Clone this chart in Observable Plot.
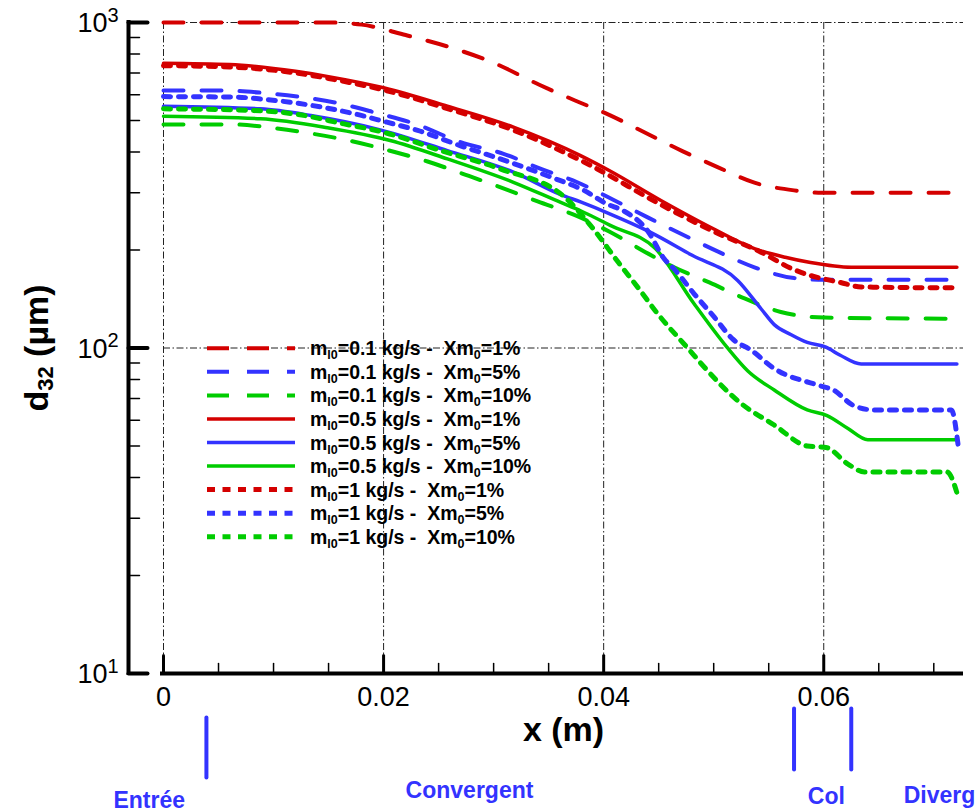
<!DOCTYPE html>
<html><head><meta charset="utf-8">
<script src="https://cdn.jsdelivr.net/npm/d3@7"></script>
<script src="https://cdn.jsdelivr.net/npm/@observablehq/plot@0.6"></script>
<style>
html,body{margin:0;padding:0;background:#fff;overflow:hidden;}
#chart{width:978px;height:812px;overflow:hidden;}
</style></head><body><div id="chart"></div>
<script>
// ---------- data ----------
const xMajor = [0, 0.02, 0.04, 0.06];
const xTickLabels = ["0", "0.02", "0.04", "0.06"];
const xMinor = [0.005, 0.01, 0.015, 0.025, 0.03, 0.035, 0.045, 0.05, 0.055, 0.065, 0.07];
const yMajor = [10, 100, 1000];
const yTickBase = ["10", "10", "10"];
const yTickExp = ["1", "2", "3"];
const yMinor = [20, 30, 40, 50, 60, 70, 80, 90, 200, 300, 400, 500, 600, 700, 800, 900];
const yGrid = [100, 1000];

const massFlow = ["0.1", "0.1", "0.1", "0.5", "0.5", "0.5", "1", "1", "1"];
const xm0 = ["1%", "5%", "10%", "1%", "5%", "10%", "1%", "5%", "10%"];

// m=0.1 kg/s
const x_m01_1 = [0, 0.015, 0.018, 0.022, 0.026, 0.030, 0.0341, 0.0374, 0.0403, 0.0441, 0.0472, 0.0504, 0.0537, 0.0573, 0.0595, 0.0721];
const d_m01_1 = [1000, 1000, 985, 915, 840, 752, 645, 576, 524, 453, 402, 359, 322, 305, 300, 300];
const x_m01_5 = [0, 0.0053, 0.009, 0.0125, 0.016, 0.0194, 0.0229, 0.027, 0.0309, 0.0343, 0.0376, 0.041, 0.044, 0.0473, 0.0505, 0.0537, 0.0573, 0.060, 0.0721];
const d_m01_5 = [618, 618, 608, 590, 564, 527, 488, 429, 395, 355, 323, 284, 252, 222, 197, 177, 164, 162, 162];
const x_m01_10 = [0, 0.0065, 0.01, 0.0136, 0.0171, 0.0202, 0.024, 0.0274, 0.0307, 0.034, 0.0375, 0.0405, 0.0438, 0.0464, 0.0496, 0.0528, 0.0561, 0.060, 0.0721];
const d_m01_10 = [486, 486, 474, 455, 432, 407, 374, 341, 311, 282, 255, 228, 197, 177, 159, 142, 129, 124, 123];
// m=0.5 kg/s
const x_m05_1 = [0, 0.006, 0.012, 0.015, 0.020, 0.0258, 0.0318, 0.0379, 0.0405, 0.0452, 0.0497, 0.0537, 0.0565, 0.0588, 0.0625, 0.0721];
const d_m05_1 = [750, 743, 708, 682, 630, 553, 477, 390, 351, 284, 235, 202, 190, 183, 177, 177];
const x_m05_5 = [0, 0.0088, 0.0134, 0.0197, 0.0258, 0.0318, 0.0361, 0.0379, 0.0406, 0.044, 0.048, 0.0522, 0.0543, 0.0555, 0.057, 0.0585, 0.0602, 0.0615, 0.0634, 0.0721];
const d_m05_5 = [553, 543, 518, 468, 404, 347, 296, 281, 258, 229, 193, 161, 132, 118, 110, 104, 100.6, 95, 89.3, 89.3];
const x_m05_10 = [0, 0.0088, 0.0149, 0.0206, 0.0258, 0.0318, 0.0361, 0.0379, 0.0406, 0.0447, 0.0482, 0.0512, 0.0531, 0.0555, 0.0585, 0.0603, 0.0622, 0.064, 0.0721];
const d_m05_10 = [515, 506, 475, 434, 381, 323, 280, 264, 238, 202, 137, 100.6, 85, 74.3, 64.5, 62, 56.6, 52.3, 52.3];
// m=1 kg/s
const x_m1_1 = [0, 0.006, 0.012, 0.015, 0.0203, 0.0258, 0.0318, 0.0388, 0.045, 0.050, 0.0543, 0.0573, 0.0588, 0.0615, 0.0634, 0.0721];
const d_m1_1 = [737, 730, 700, 673, 617, 544, 467, 364, 278, 228, 197, 174, 167, 159, 154, 153];
const x_m1_5 = [0, 0.0064, 0.0091, 0.012, 0.0147, 0.0176, 0.0203, 0.0231, 0.027, 0.0312, 0.0352, 0.0382, 0.0403, 0.0418, 0.044, 0.0455, 0.0464, 0.0482, 0.050, 0.0518, 0.0534, 0.0555, 0.0594, 0.0609, 0.0627, 0.0646, 0.0716, 0.0722];
const d_m1_5 = [592, 590, 581, 566, 547, 522, 494, 466, 418, 375, 335, 305, 277, 264, 229, 188, 175, 147, 125, 106, 98.5, 86.5, 77, 74.2, 66.6, 64.5, 64.5, 50.6];
const x_m1_10 = [0, 0.0079, 0.0122, 0.0164, 0.020, 0.0252, 0.0306, 0.0365, 0.0388, 0.0414, 0.0432, 0.0449, 0.0478, 0.0488, 0.0525, 0.0555, 0.0585, 0.0602, 0.0622, 0.0637, 0.0712, 0.0722];
const d_m1_10 = [543, 537, 522, 488, 460, 404, 355, 290, 238, 182, 152, 127.5, 98.5, 90, 67.5, 58, 50, 49.5, 44, 41.6, 41.6, 35];

const zoneLabels = ["Entrée", "Convergent", "Col", "Diverg"];
const zoneLabelX = [-0.00455, 0.022, 0.05855, 0.06727];
const inletX = [0.0039];
const throatX = [0.0573, 0.0625];

// ---------- styles ----------
const FONT = '"Liberation Sans", Arial, Helvetica, sans-serif';
const RED = "#d40000", BLUE = "#3333ff", GREEN = "#00cc00";
const DASH = "20,18", DOT = "7,8";
const seriesX = [x_m01_1, x_m01_5, x_m01_10, x_m05_1, x_m05_5, x_m05_10, x_m1_1, x_m1_5, x_m1_10];
const seriesD = [d_m01_1, d_m01_5, d_m01_10, d_m05_1, d_m05_5, d_m05_10, d_m1_1, d_m1_5, d_m1_10];
const colors = [RED, BLUE, GREEN, RED, BLUE, GREEN, RED, BLUE, GREEN];
const dashes = [DASH, DASH, DASH, null, null, null, DOT, DOT, DOT];
const widths = [4, 4, 4, 3.5, 3.5, 3.5, 5, 5, 5];

const rows = seriesX.flatMap((xs, k) => xs.map((x, j) => ({x, d: seriesD[k][j], k})));

const tickShape = {draw(ctx, l) { ctx.moveTo(0, 0); ctx.lineTo(0, -l); }};
const GRID = {stroke: "#222", strokeWidth: 1, strokeDasharray: "7,2.5,1.5,2.5"};

const marks = [
  Plot.ruleX(xMajor, GRID),
  Plot.ruleY(yGrid, GRID),
  ...seriesX.map((_, k) => Plot.line(rows.filter(r => r.k === k), {
    x: "x", y: "d", stroke: colors[k], strokeWidth: widths[k],
    strokeDasharray: dashes[k], curve: "monotone-x"
  })),
  // axes lines
  Plot.ruleY([10], {strokeWidth: 4, insetLeft: -3, insetRight: 0}),
  Plot.ruleX([0], {dx: -35, strokeWidth: 4, insetTop: -2, insetBottom: -2}),
  // y ticks
  Plot.vector(yMajor, {y: d => d, frameAnchor: "left", dx: -35, length: 19, rotate: 90, anchor: "start", shape: tickShape, strokeWidth: 4}),
  Plot.vector(yMinor, {y: d => d, frameAnchor: "left", dx: -35, length: 11, rotate: 90, anchor: "start", shape: tickShape, strokeWidth: 1.5}),
  // x ticks
  Plot.vector(xMajor, {x: d => d, frameAnchor: "bottom", length: 18, rotate: 0, anchor: "start", shape: tickShape, strokeWidth: 3}),
  Plot.vector(xMinor, {x: d => d, frameAnchor: "bottom", length: 10, rotate: 0, anchor: "start", shape: tickShape, strokeWidth: 1.5}),
  // tick labels
  Plot.text(xMajor, {x: d => d, frameAnchor: "bottom", dy: 32, lineAnchor: "bottom", text: xTickLabels, fontSize: 27, fill: "black"}),
  Plot.text(yMajor, {y: d => d, frameAnchor: "left", dx: -56, textAnchor: "end", text: yTickBase, fontSize: 27, dy: 1, fill: "black"}),
  Plot.text(yMajor, {y: d => d, frameAnchor: "left", dx: -56, textAnchor: "start", text: yTickExp, fontSize: 20, dy: -7, fill: "black"}),
  // axis title x
  Plot.text(["x (m)"], {frameAnchor: "bottom", dy: 67, lineAnchor: "bottom", fontSize: 34, fontWeight: "bold", fill: "black"}),
  // zone markers
  Plot.vector(inletX, {x: d => d, frameAnchor: "bottom", dy: 44, length: 60, rotate: 180, anchor: "start", shape: tickShape, stroke: BLUE, strokeWidth: 4}),
  Plot.vector(throatX, {x: d => d, frameAnchor: "bottom", dy: 35, length: 61, rotate: 180, anchor: "start", shape: tickShape, stroke: BLUE, strokeWidth: 4}),
  ...zoneLabels.map((lab, i) => Plot.text([lab], {
    x: () => zoneLabelX[i], frameAnchor: "bottom", lineAnchor: "bottom", textAnchor: "start",
    dy: [134, 124, 130, 129][i], fontSize: 23, fontWeight: "bold", fill: BLUE
  }))
];

const plot = Plot.plot({
  width: 978, height: 812,
  marginLeft: 163, marginRight: 15, marginTop: 22, marginBottom: 139,
  x: {domain: [0, 0.0727], axis: null},
  y: {type: "log", domain: [10, 1000], axis: null},
  style: {fontFamily: FONT, background: "white", color: "black"},
  marks
});

// legend (inside plot area) and y title
const svg = d3.select(plot);
const lg = svg.append("g").attr("font-family", FONT).attr("font-weight", "bold").attr("font-size", 19.5)
  .attr("fill", "black").attr("text-anchor", "start");
seriesX.forEach((_, i) => {
  const y = 348.3 + i * 23.55;
  lg.append("line").attr("x1", 207).attr("x2", 295).attr("y1", y).attr("y2", y)
    .attr("stroke", colors[i]).attr("stroke-width", widths[i])
    .attr("stroke-dasharray", i < 3 ? "22,18" : i >= 6 ? "8,7.5" : null);
  const t = lg.append("text").attr("x", 310).attr("y", y + 7).attr("text-anchor", "start").style("white-space", "pre");
  t.append("tspan").text("m");
  t.append("tspan").attr("font-size", 12.5).attr("dy", 4).text("l0");
  t.append("tspan").attr("dy", -4).text(`=${massFlow[i]} kg/s -  Xm`);
  t.append("tspan").attr("font-size", 12.5).attr("dy", 4).text("0");
  t.append("tspan").attr("dy", -4).text(`=${xm0[i]}`);
});
const yt = svg.append("text").attr("transform", "translate(48,348) rotate(-90)")
  .attr("text-anchor", "middle").attr("font-family", FONT).attr("font-weight", "bold")
  .attr("font-size", 34).attr("fill", "black").style("white-space", "pre");
yt.append("tspan").text("d");
yt.append("tspan").attr("font-size", 22).attr("dy", 5).text("32");
yt.append("tspan").attr("dy", -5).text(" (µm)");

document.getElementById("chart").appendChild(plot);
</script>
</body></html>
